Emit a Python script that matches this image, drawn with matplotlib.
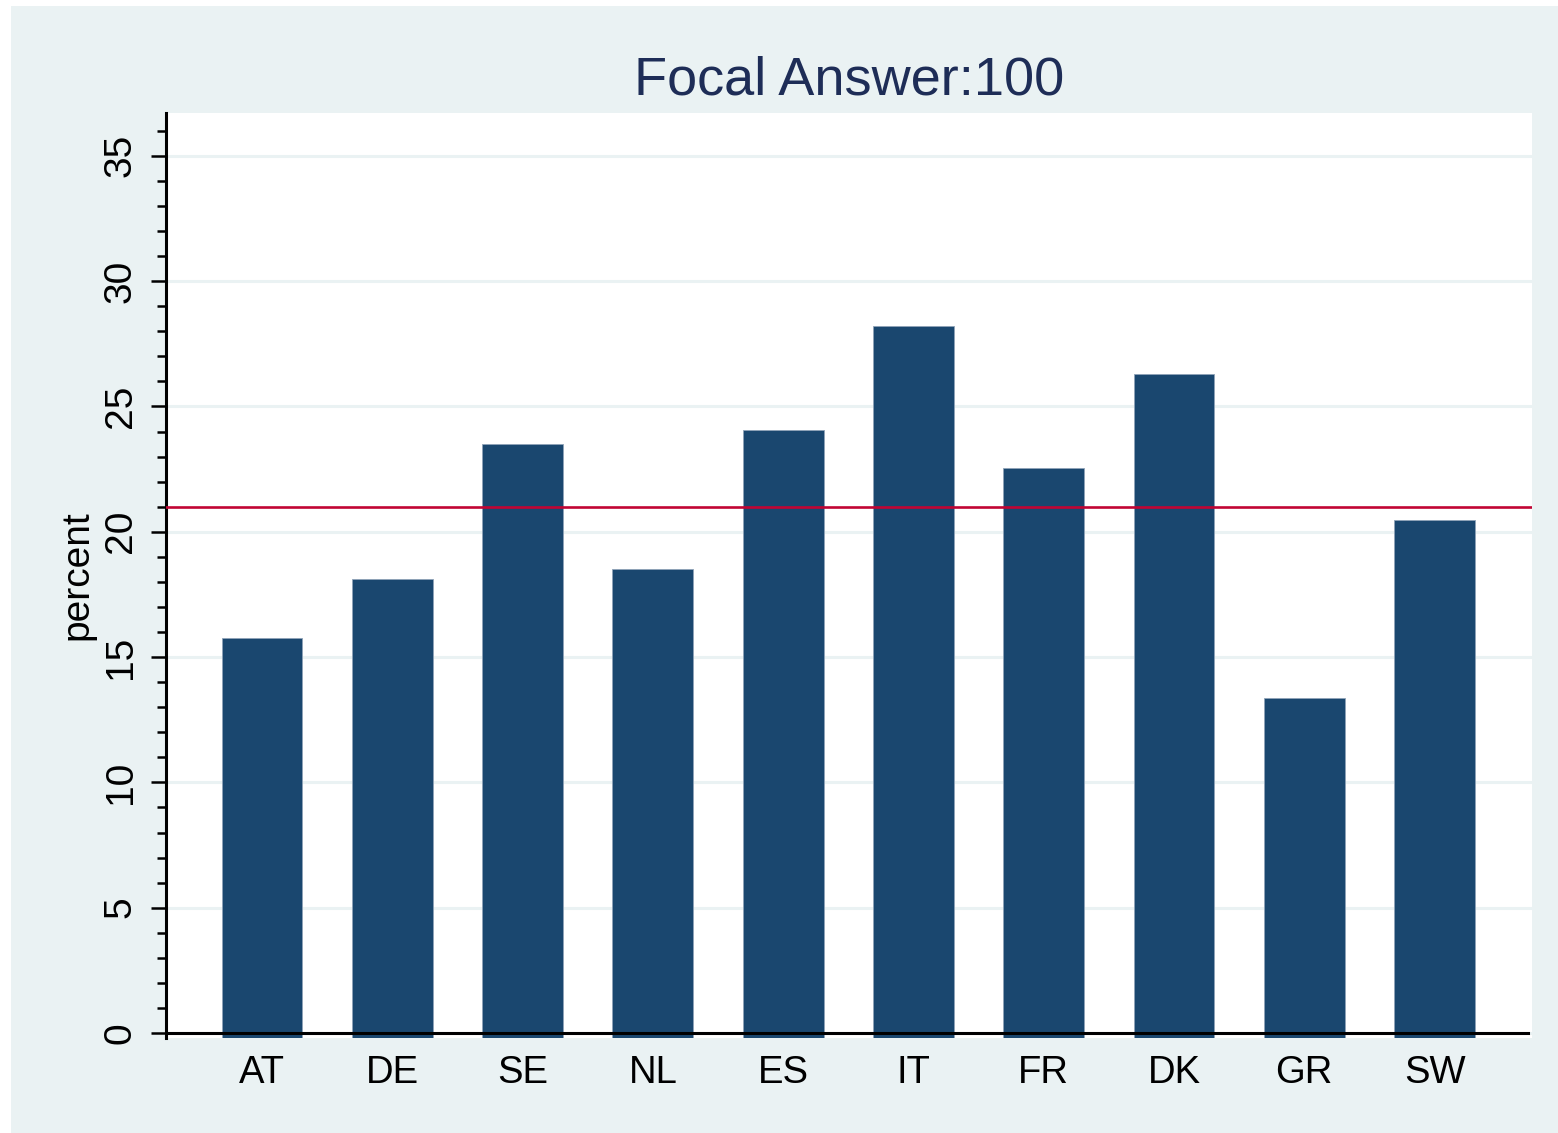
import matplotlib
matplotlib.use("Agg")
import matplotlib.pyplot as plt
import numpy as np
from matplotlib.patches import Rectangle
from matplotlib.ticker import MultipleLocator

countries = ["AT", "DE", "SE", "NL", "ES", "IT", "FR", "DK", "GR", "SW"]
percent = [15.75, 18.1, 23.5, 18.5, 24.05, 28.2, 22.55, 26.3, 13.35, 20.45]
reference_line = 21.0
title = "Focal Answer:100"

plt.rcParams['font.family'] = ['Liberation Sans', 'DejaVu Sans']

W, H = 1558, 1133
fig = plt.figure(figsize=(W / 100, H / 100), dpi=100, facecolor="white")
bg = Rectangle((11 / W, 0), 1 - 11 / W, 1 - 6 / H,
               transform=fig.transFigure, facecolor="#eaf2f3",
               edgecolor="none", zorder=-10)
fig.add_artist(bg)

left, right, top, bottom = 166, 1532, 113, 1038
ax = fig.add_axes([left / W, (H - bottom) / H, (right - left) / W, (bottom - top) / H])
ax.set_facecolor("white")

ymin, ymax = -0.2, 36.71
x = np.arange(len(countries))
vals = np.array(percent)
ax.bar(x, vals - ymin, bottom=ymin, width=0.62, color="#1a476f",
       edgecolor="#8fa3b8", linewidth=0.6, zorder=3)
ax.axhline(reference_line, color="#c10534", lw=1.9, zorder=4)

ax.set_xlim(-0.737, 9.748)
ax.set_ylim(ymin, ymax)

ax.yaxis.set_major_locator(MultipleLocator(5))
ax.yaxis.set_minor_locator(MultipleLocator(1))
ax.grid(axis="y", which="major", color="#eaf2f3", lw=2.2, zorder=1)
ax.set_axisbelow(True)

for s in ["top", "right"]:
    ax.spines[s].set_visible(False)
ax.spines["bottom"].set_position(("data", 0))
ax.spines["bottom"].set_linewidth(2.2)
ax.spines["bottom"].set_zorder(5)
ax.spines["bottom"].set_bounds(-0.737, 9.72)
ax.spines["left"].set_linewidth(2.2)
ax.spines["left"].set_bounds(ymin, ymax)

ax.set_xticks(x)
ax.set_xticklabels(countries)
ax.tick_params(axis="x", length=0, pad=16, labelsize=27.5)
ax.set_yticks(np.arange(0, 36, 5))
ax.tick_params(axis="y", which="major", length=11, width=1.8, pad=8.5, labelsize=28)
ax.tick_params(axis="y", which="minor", length=6.5, width=1.8)
plt.setp(ax.get_yticklabels(), rotation=90, va="center")

ax.set_ylabel("percent", fontsize=28, labelpad=5)
ax.set_title(title, fontsize=39, color="#1e2d57", pad=13)

fig.savefig("out.png", dpi=100, facecolor="white")
